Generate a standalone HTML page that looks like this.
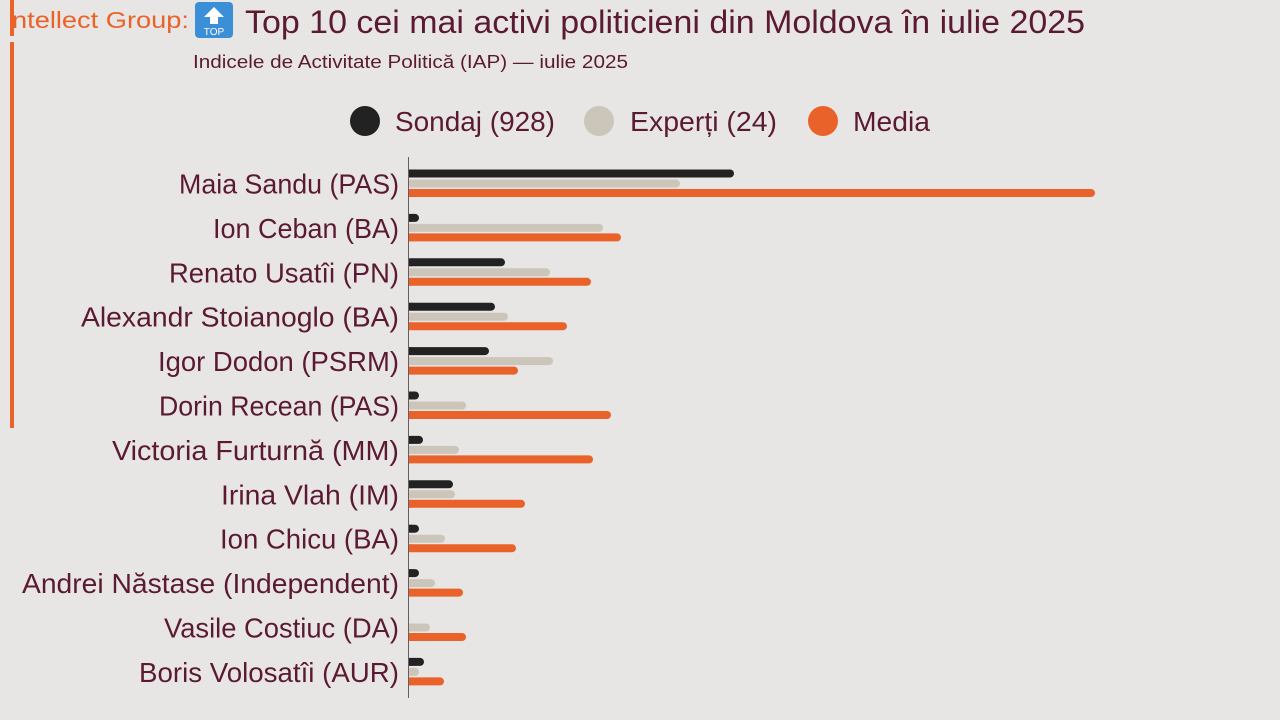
<!DOCTYPE html>
<html><head><meta charset="utf-8"><style>
html,body{margin:0;padding:0;background:#e8e6e4;}
svg{display:block;font-family:"Liberation Sans Narrow","Liberation Sans",sans-serif;}
</style></head><body>
<svg width="1280" height="720" viewBox="0 0 1280 720" xmlns="http://www.w3.org/2000/svg">
<rect width="1280" height="720" fill="#e8e6e4"/>
<rect x="10" y="0" width="4" height="36" fill="#e8622a"/>
<rect x="10" y="42" width="4" height="386" fill="#e8622a"/>
<text x="12" y="28" font-size="23" fill="#e8622a" textLength="177" lengthAdjust="spacingAndGlyphs">ntellect Group:</text>
<rect x="195" y="2" width="38" height="36" rx="4" fill="#3b8fd6"/>
<path d="M214 7 L224 17 L218 17 L218 24 L210 24 L210 17 L204 17 Z" fill="#fff"/>
<text x="214" y="35" font-size="10" fill="#fff" text-anchor="middle" font-family="Liberation Sans">TOP</text>
<text x="245" y="33" font-size="32" fill="#5b1a33" textLength="840" lengthAdjust="spacingAndGlyphs">Top 10 cei mai activi politicieni din Moldova în iulie 2025</text>
<text x="193" y="68" font-size="18" fill="#5b1a33" textLength="435" lengthAdjust="spacingAndGlyphs">Indicele de Activitate Politică (IAP) — iulie 2025</text>
<circle cx="365" cy="121" r="15" fill="#222"/>
<text x="395" y="131" font-size="28" fill="#5b1a33" textLength="160" lengthAdjust="spacingAndGlyphs">Sondaj (928)</text>
<circle cx="599" cy="121" r="15" fill="#cbc5ba"/>
<text x="630" y="131" font-size="28" fill="#5b1a33" textLength="147" lengthAdjust="spacingAndGlyphs">Experți (24)</text>
<circle cx="823" cy="121" r="15" fill="#e8622a"/>
<text x="853" y="131" font-size="28" fill="#5b1a33" textLength="77" lengthAdjust="spacingAndGlyphs">Media</text>
<g id="bars"></g>
<line x1="408.5" y1="157" x2="408.5" y2="698" stroke="#6b5a5e" stroke-width="1"/>
</svg>
<script>
var d=[["Maia Sandu (PAS)",179,734,680,1095],["Ion Ceban (BA)",213,419,603,621],["Renato Usatîi (PN)",169,505,550,591],["Alexandr Stoianoglo (BA)",81,495,508,567],["Igor Dodon (PSRM)",158,489,553,518],["Dorin Recean (PAS)",159,419,466,611],["Victoria Furturnă (MM)",112,423,459,593],["Irina Vlah (IM)",221,453,455,525],["Ion Chicu (BA)",220,419,445,516],["Andrei Năstase (Independent)",22,419,435,463],["Vasile Costiuc (DA)",164,0,430,466],["Boris Volosatîi (AUR)",139,424,419,444]];
var g=document.getElementById('bars'),s='';
var cols=["#222","#cbc5ba","#e8622a"],off=[0,10,19.5];
d.forEach(function(r,i){var c=173.5+44.4*i;
s+='<text x="399" y="'+(c+20)+'" font-size="28" fill="#5b1a33" text-anchor="end" textLength="'+(399-r[1])+'" lengthAdjust="spacingAndGlyphs">'+r[0]+'</text>';
for(var k=0;k<3;k++){var e=r[2+k];if(e>409){var y=c+off[k]-4;s+='<rect x="408" y="'+y+'" width="'+(e-408)+'" height="8" rx="4" fill="'+cols[k]+'"/><rect x="408" y="'+y+'" width="4" height="8" fill="'+cols[k]+'"/>';}}
});
g.innerHTML=s;
</script>
</body></html>
